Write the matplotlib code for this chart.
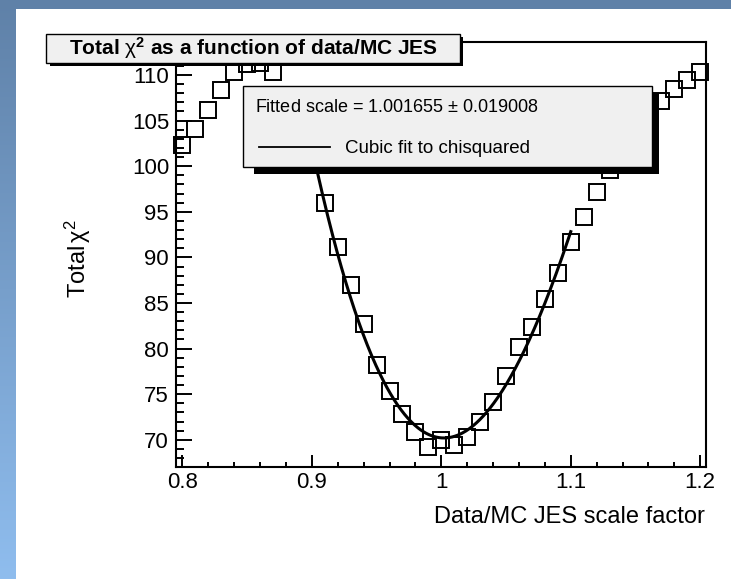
import numpy as np
import matplotlib
import matplotlib.pyplot as plt
from matplotlib.patches import Rectangle
from matplotlib.lines import Line2D
from matplotlib.colors import LinearSegmentedColormap
from matplotlib.ticker import MultipleLocator, FuncFormatter

plt.rcParams['font.family'] = ['Liberation Sans', 'DejaVu Sans']
plt.rcParams['mathtext.fontset'] = 'custom'
plt.rcParams['mathtext.rm'] = 'Liberation Sans'
plt.rcParams['mathtext.it'] = 'Liberation Sans:italic'
plt.rcParams['mathtext.bf'] = 'Liberation Sans:bold'

# data/MC JES scale factor (one point per bin)
scale = [0.80, 0.81, 0.82, 0.83, 0.84, 0.85, 0.86, 0.87, 0.88, 0.89,
         0.90, 0.91, 0.92, 0.93, 0.94, 0.95, 0.96, 0.97, 0.98, 0.99,
         1.00, 1.01, 1.02, 1.03, 1.04, 1.05, 1.06, 1.07, 1.08, 1.09,
         1.10, 1.11, 1.12, 1.13, 1.14, 1.15, 1.16, 1.17, 1.18, 1.19, 1.20]
# total chi2 (0.88-0.90 and 1.14-1.16 sit under the legend)
chi2 = [102.3, 104.1, 106.2, 108.4, 110.3, 111.2, 111.3, 110.3, 107.5, 104.0,
        100.3, 96.0, 91.1, 87.0, 82.7, 78.2, 75.3, 72.8, 70.9, 69.2,
        70.0, 69.4, 70.3, 71.9, 74.1, 77.0, 80.2, 82.4, 85.4, 88.3,
        91.7, 94.4, 97.2, 99.6, 101.8, 103.7, 105.5, 107.1, 108.5, 109.5, 110.3]
fit_range = (0.90, 1.10)
fit_scale = 1.001655
fit_error = 0.019008
x_ticks = [0.8, 0.9, 1.0, 1.1, 1.2]
y_ticks = [70, 75, 80, 85, 90, 95, 100, 105, 110]

W, H = 731, 579
fig = plt.figure(figsize=(W / 100, H / 100), dpi=100)
fig.patch.set_facecolor('white')


# pixel helpers (x from left, y from top)
def fx(px):
    return px / W


def fy(py):
    return 1 - py / H


# blue canvas border, top band and left gradient band
fig.add_artist(Rectangle((0, fy(9)), 1, 9 / H, transform=fig.transFigure,
                         color='#5f81a8', lw=0, zorder=0))
ax_l = fig.add_axes([0, 0, fx(16), 1])
cmap = LinearSegmentedColormap.from_list('frame', ['#5f81a8', '#8fbdee'])
ax_l.imshow(np.linspace(0, 1, 256).reshape(-1, 1), cmap=cmap, aspect='auto')
ax_l.set_axis_off()

# main pad
ax = fig.add_axes([fx(176), fy(466.7), fx(706) - fx(176), fy(41.7) - fy(466.7)])
ax.set_xlim(0.795, 1.2045)
ax.set_ylim(67.05, 113.65)

x = np.array(scale)
y = np.array(chi2)
ax.plot(x, y, 's', ms=11.5, mfc='none', mec='black', mew=1.4,
        clip_on=False, zorder=3)

# cubic fit over the central region
sel = (x >= fit_range[0] - 1e-9) & (x <= fit_range[1] + 1e-9)
coef = np.polyfit(x[sel], y[sel], 3)
xf = np.linspace(fit_range[0], fit_range[1], 300)
ax.plot(xf, np.polyval(coef, xf), color='black', lw=2.2, zorder=4)

ax.set_xticks(x_ticks)
ax.set_yticks(y_ticks)
ax.xaxis.set_minor_locator(MultipleLocator(0.02))
ax.yaxis.set_minor_locator(MultipleLocator(1))
ax.xaxis.set_major_formatter(FuncFormatter(lambda v, p: '%g' % v))
ax.tick_params(axis='x', which='major', direction='in', length=8.9, width=1.4,
               labelsize=16, pad=4, top=False)
ax.tick_params(axis='x', which='minor', direction='in', length=3.9, width=1.4, top=False)
ax.tick_params(axis='y', which='major', direction='in', length=11.3, width=1.4,
               labelsize=16, pad=5, right=False)
ax.tick_params(axis='y', which='minor', direction='in', length=5.8, width=1.4, right=False)
for s in ax.spines.values():
    s.set_linewidth(1.5)

# axis titles
fig.text(fx(705), fy(517), 'Data/MC JES scale factor', fontsize=17,
         ha='right', va='center')
fig.text(fx(78), fy(259), r'Total$\,\mathrm{\chi}^{2}$', fontsize=17,
         rotation=90, ha='center', va='center')


def box(x0, y0, x1, y1, shadow, sx0):
    fig.add_artist(Rectangle((fx(sx0), fy(y1 + shadow)), fx(x1 + shadow) - fx(sx0),
                             fy(y0 + shadow) - fy(y1 + shadow), transform=fig.transFigure,
                             facecolor='black', lw=0, zorder=10))
    fig.add_artist(Rectangle((fx(x0), fy(y1)), fx(x1) - fx(x0), fy(y0) - fy(y1),
                             transform=fig.transFigure, facecolor='#f0f0f0',
                             edgecolor='black', lw=1.0, zorder=11))


# title box
box(46, 34, 460, 63, 3, 50)
fig.text(fx(253), fy(48.5), r'Total $\mathrm{\chi}^{\mathbf{2}}$ as a function of data/MC JES',
         fontsize=15, fontweight='bold', ha='center', va='center', zorder=12)

# legend box
box(243, 86, 652, 167, 7, 254)
fig.text(fx(255), fy(111.7), 'Fitted scale = %.6f $\\pm$ %.6f' % (fit_scale, fit_error),
         fontsize=13, ha='left', va='baseline', zorder=12)
fig.add_artist(Line2D([fx(259), fx(330)], [fy(147.3), fy(147.3)], color='black',
                      lw=1.3, transform=fig.transFigure, zorder=12))
fig.text(fx(345), fy(153.3), 'Cubic fit to chisquared', fontsize=13.5,
         ha='left', va='baseline', zorder=12)

fig.savefig('out.png', dpi=100)
